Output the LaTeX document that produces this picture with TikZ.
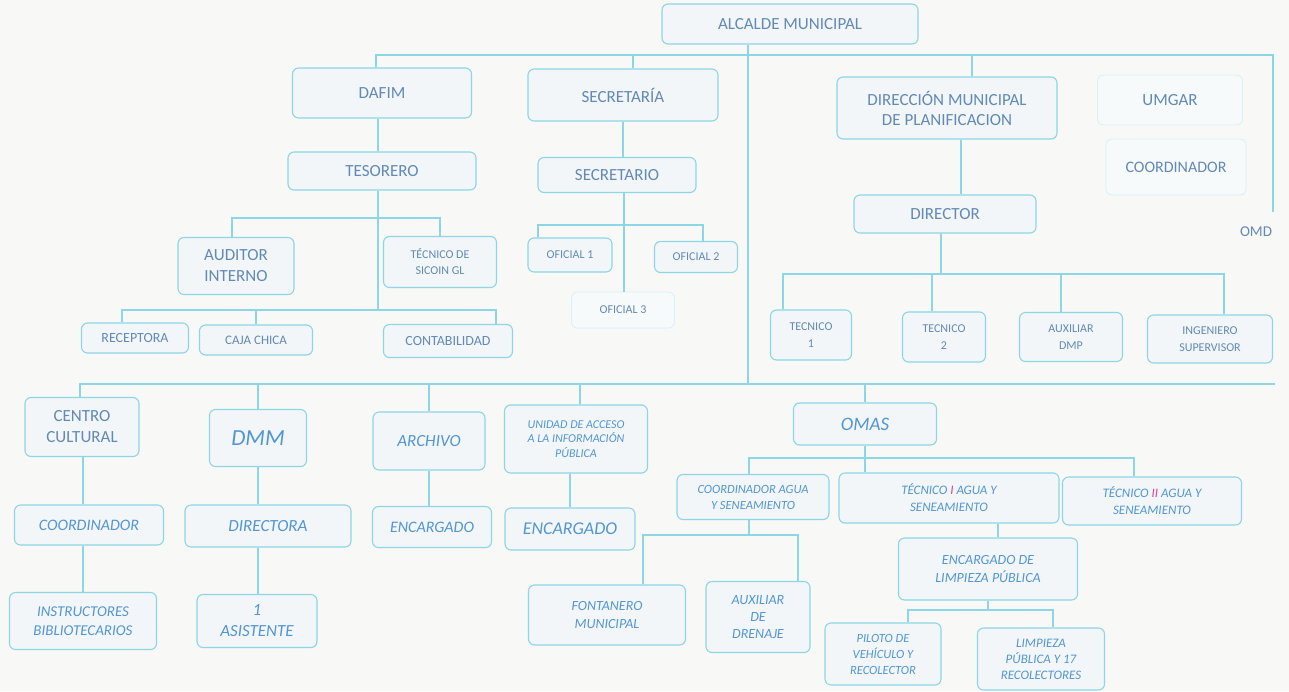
\documentclass[tikz,border=0pt]{standalone}
\usepackage{fontspec}
\setmainfont{Carlito}
\definecolor{bgc}{RGB}{248,248,247}
\definecolor{lnc}{RGB}{140,214,230}
\definecolor{fillc}{RGB}{242,246,248}
\definecolor{txu}{RGB}{98,138,180}
\definecolor{txl}{RGB}{82,150,210}
\definecolor{pinkc}{RGB}{232,60,150}
\tikzset{
  bx/.style={draw=lnc, line width=1.1pt, fill=fillc, rounded corners=6pt, align=center, inner sep=2pt, text=txu},
  faint/.style={draw=lnc!35, line width=0.8pt, fill=fillc!60, rounded corners=6pt, align=center, inner sep=2pt, text=txu},
  bare/.style={align=center, inner sep=2pt, text=txu},
  up/.style 2 args={font=\fontsize{#1}{#2}\selectfont},
  it/.style 2 args={font=\fontsize{#1}{#2}\selectfont\itshape, text=txl},
  sz/.style 2 args={minimum width=#1pt, minimum height=#2pt},
  conn/.style={draw=lnc, line width=1.1pt}
}
\begin{document}
\begin{tikzpicture}[x=1pt, y={(0pt,-1pt)}]
\useasboundingbox (0,0) rectangle (1289,691);
\fill[bgc] (0,0) rectangle (1289,691);
% ---------- upper part ----------
\node[bx, up={17}{21}, sz={256}{40}] (alc) at (790,24) {ALCALDE MUNICIPAL};
\node[bx, up={17}{21}, sz={179}{50}] (dafim) at (382,93) {DAFIM};
\node[bx, up={17}{21}, sz={190}{52}] (secr) at (623,95) {SECRETARÍA};
\node[bx, up={17}{20}, sz={220}{62}] (dmp) at (947,108) {DIRECCIÓN MUNICIPAL\\DE PLANIFICACION};
\node[faint, up={17}{21}, sz={145}{50}] (umgar) at (1170,100) {UMGAR};
\node[faint, up={16}{20}, sz={140}{56}] (ucoord) at (1176,167) {COORDINADOR};
\node[bare, up={15}{18}, sz={60}{40}] (omd) at (1256,232) {OMD};
\node[bx, up={17}{21}, sz={188}{38}] (tes) at (382,171) {TESORERO};
\node[bx, up={17}{21}, sz={158}{35}] (secrio) at (617,175) {SECRETARIO};
\node[bx, up={17}{21}, sz={182}{38}] (dir) at (945,214) {DIRECTOR};
\node[bx, up={17}{21}, sz={116}{57}] (aud) at (236,266) {AUDITOR\\INTERNO};
\node[bx, up={12}{16}, sz={113}{51}] (sicoin) at (440,262) {TÉCNICO DE\\SICOIN GL};
\node[bx, up={12}{15}, sz={84}{34}] (of1) at (570,255) {OFICIAL 1};
\node[bx, up={12}{15}, sz={83}{31}] (of2) at (696,257) {OFICIAL 2};
\node[faint, up={12}{15}, sz={103}{36}] (of3) at (623,310) {OFICIAL 3};
\node[bx, up={14}{17}, sz={107}{30}] (rec) at (135,338) {RECEPTORA};
\node[bx, up={13}{16}, sz={113}{30}] (caja) at (256,340) {CAJA CHICA};
\node[bx, up={14}{17}, sz={129}{33}] (cont) at (448,341) {CONTABILIDAD};
\node[bx, up={12}{17}, sz={81}{50}] (tec1) at (811,335) {TECNICO\\1};
\node[bx, up={12}{17}, sz={83}{50}] (tec2) at (944,337) {TECNICO\\2};
\node[bx, up={12}{17}, sz={103}{49}] (aux) at (1071,337) {AUXILIAR\\DMP};
\node[bx, up={12}{17}, sz={125}{48}] (ing) at (1210,339) {INGENIERO\\SUPERVISOR};
% ---------- lower part ----------
\node[bx, up={17}{21}, sz={114}{59}] (cc) at (82,427) {CENTRO\\CULTURAL};
\node[bx, it={23}{26}, sz={97}{57}] (dmm) at (258,438) {DMM};
\node[bx, it={17}{21}, sz={112}{58}] (arch) at (429,441) {ARCHIVO};
\node[bx, it={12}{14.5}, sz={143}{68}] (uaip) at (576,439) {UNIDAD DE ACCESO\\A LA INFORMACIÓN\\PÚBLICA};
\node[bx, it={19}{22}, sz={143}{42}] (omas) at (865,424) {OMAS};
\node[bx, it={16}{20}, sz={149}{40}] (ccoord) at (89,525) {COORDINADOR};
\node[bx, it={17}{20}, sz={166}{42}] (dira) at (268,526) {DIRECTORA};
\node[bx, it={16}{20}, sz={119}{41}] (enc1) at (432,527) {ENCARGADO};
\node[bx, it={18}{21}, sz={130}{42}] (enc2) at (570,529) {ENCARGADO};
\node[bx, it={15}{19}, sz={147}{57}] (inst) at (83,621) {INSTRUCTORES\\BIBLIOTECARIOS};
\node[bx, it={17}{21}, sz={120}{53}] (asis) at (257,621) {1\\ASISTENTE};
\node[bx, it={12.5}{16}, sz={152}{45}] (cagua) at (753,497) {COORDINADOR AGUA\\Y SENEAMIENTO};
\node[bx, it={13}{17}, sz={220}{50}] (t1agua) at (949,498) {TÉCNICO {\color{pinkc}I} AGUA Y\\SENEAMIENTO};
\node[bx, it={13}{17}, sz={179}{48}] (t2agua) at (1152,501) {TÉCNICO {\color{pinkc}II} AGUA Y\\SENEAMIENTO};
\node[bx, it={14}{18}, sz={157}{60}] (fonta) at (607,615) {FONTANERO\\MUNICIPAL};
\node[bx, it={14}{17}, sz={104}{71}] (auxd) at (758,617) {AUXILIAR\\DE\\DRENAJE};
\node[bx, it={14}{18}, sz={179}{62}] (encl) at (988,569) {ENCARGADO DE\\LIMPIEZA PÚBLICA};
\node[bx, it={12.5}{16}, sz={116}{62}] (pil) at (883,654) {PILOTO DE\\VEHÍCULO Y\\RECOLECTOR};
\node[bx, it={13}{16}, sz={127}{62}] (l17) at (1041,659) {LIMPIEZA\\PÚBLICA Y 17\\RECOLECTORES};
% ---------- bar coordinates ----------
\coordinate (tb) at (748,55);
\coordinate (b2) at (378,218);
\coordinate (b3) at (378,310);
\coordinate (b4) at (623,225);
\coordinate (b5) at (941,274);
\coordinate (lb) at (748,384);
\coordinate (lbr) at (1275,384);
\coordinate (b6) at (866,458);
\coordinate (b7) at (749,535);
\coordinate (b8) at (988,610);
% ---------- connectors ----------
\draw[conn] ([xshift=-42pt]alc.south) -- (lb);
\draw[conn] ([xshift=-6pt]dafim.north) |- (tb) -| ([xshift=17pt]omd.north);
\draw[conn] ([xshift=10pt]secr.north) -- ([xshift=10pt]secr.north |- tb);
\draw[conn] ([xshift=25pt]dmp.north) -- ([xshift=25pt]dmp.north |- tb);
\draw[conn] ([xshift=-4pt]dafim.south) -- ([xshift=-4pt]dafim.south |- tes.north);
\draw[conn] ([xshift=-4pt]tes.south) -- (b3);
\draw[conn] ([xshift=-4pt]aud.north) |- (b2) -| (sicoin.north);
\draw[conn] ([xshift=-13pt]rec.north) |- (b3) -| ([xshift=48pt]cont.north);
\draw[conn] (caja.north) -- (caja.north |- b3);
\draw[conn] (secr.south) -- (secr.south |- secrio.north);
\draw[conn] ([xshift=7pt]secrio.south) -- ([xshift=7pt]secrio.south |- of3.north);
\draw[conn] ([xshift=-32pt]of1.north) |- (b4) -| ([xshift=7pt]of2.north);
\draw[conn] ([xshift=14pt]dmp.south) -- ([xshift=14pt]dmp.south |- dir.north);
\draw[conn] ([xshift=-4pt]dir.south) -- (b5);
\draw[conn] ([xshift=-28pt]tec1.north) |- (b5) -| ([xshift=14pt]ing.north);
\draw[conn] ([xshift=-12pt]tec2.north) -- ([xshift=-12pt]tec2.north |- b5);
\draw[conn] ([xshift=-10pt]aux.north) -- ([xshift=-10pt]aux.north |- b5);
\draw[conn] ([xshift=-2pt]cc.north) |- (lbr);
\draw[conn] (dmm.north) -- (dmm.north |- lb);
\draw[conn] (arch.north) -- (arch.north |- lb);
\draw[conn] ([xshift=4pt]uaip.north) -- ([xshift=4pt]uaip.north |- lb);
\draw[conn] (omas.north) -- (omas.north |- lb);
\draw[conn] ([xshift=1pt]cc.south) -- ([xshift=1pt]cc.south |- ccoord.north);
\draw[conn] ([xshift=-6pt]ccoord.south) -- ([xshift=-6pt]ccoord.south |- inst.north);
\draw[conn] (dmm.south) -- (dmm.south |- dira.north);
\draw[conn] ([xshift=-10pt]dira.south) -- ([xshift=-10pt]dira.south |- asis.north);
\draw[conn] (arch.south) -- (arch.south |- enc1.north);
\draw[conn] ([xshift=-6pt]uaip.south) -- ([xshift=-6pt]uaip.south |- enc2.north);
\draw[conn] (omas.south) -- (omas.south |- t1agua.north);
\draw[conn] ([xshift=-4pt]cagua.north) |- (b6) -| ([xshift=-18pt]t2agua.north);
\draw[conn] ([xshift=-4pt]cagua.south) -- (b7);
\draw[conn] ([xshift=36pt]fonta.north) |- (b7) -| ([xshift=40pt]auxd.north);
\draw[conn] ([xshift=49pt]t1agua.south) -- ([xshift=49pt]t1agua.south |- encl.north);
\draw[conn] (encl.south) -- (b8);
\draw[conn] ([xshift=25pt]pil.north) |- (b8) -| ([xshift=12pt]l17.north);
\end{tikzpicture}
\end{document}
